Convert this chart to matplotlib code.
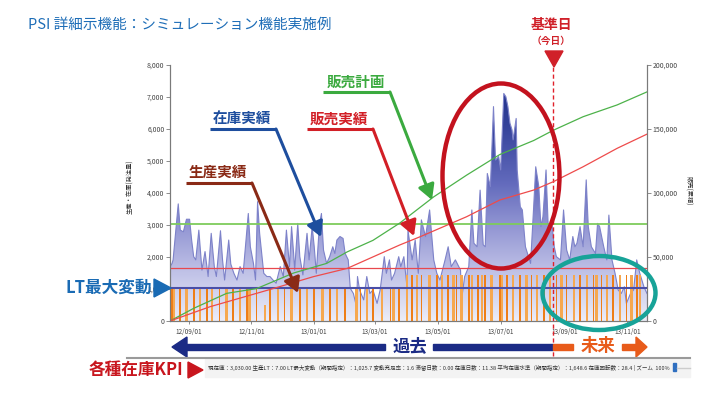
import datetime as dt
import numpy as np
import matplotlib
matplotlib.use("Agg")
import matplotlib.pyplot as plt
import matplotlib.dates as mdates
from matplotlib.colors import LinearSegmentedColormap
from matplotlib.patches import Ellipse, Polygon, Rectangle
from matplotlib.ticker import FuncFormatter

plt.rcParams['font.family'] = ['Noto Sans CJK JP', 'DejaVu Sans']

# axis runs from 2012-08-14, day offsets below are counted from there
START = dt.date(2012, 8, 14)
END_DAY = 463
BASE_DAY = 372  # 基準日 (今日)

# 在庫実績 (left axis)
inv_days = [0, 2, 3, 8, 10, 13, 16, 19, 21, 23, 25, 28, 31, 34, 37, 40, 43, 45, 49, 51,
            53, 57, 59, 62, 65, 68, 71, 76, 78, 81, 83, 85, 87, 91, 94, 97, 100, 103, 107, 110,
            113, 116, 118, 120, 121, 124, 126, 129, 133, 135, 138, 140, 142, 145, 147, 149, 152, 155, 158, 160,
            162, 165, 168, 170, 173, 175, 178, 181, 182, 184, 188, 191, 194, 197, 201, 204, 208, 210, 213, 215,
            218, 222, 224, 227, 230, 231, 235, 238, 241, 244, 248, 252, 256, 259, 262, 267, 270, 273, 277, 282,
            283, 286, 290, 293, 295, 298, 301, 304, 306, 308, 311, 314, 316, 319, 321, 324, 326, 328, 330, 332,
            333, 336, 337, 340, 342, 345, 348, 350, 353, 355, 358, 360, 362, 365, 367, 371, 373, 375, 379, 382,
            385, 388, 391, 393, 395, 398, 401, 404, 406, 409, 413, 415, 417, 421, 424, 426, 429, 432, 435, 438,
            441, 443, 447, 450, 453, 456, 460, 463]
inv_vals = [1700, 1800, 1910, 3660, 2840, 2790, 3180, 3180, 2530, 2010, 1910, 2840, 1590, 2170, 1390, 2740, 1700, 1390, 2820, 1910,
            1280, 2530, 1780, 1490, 1280, 1700, 1490, 3360, 2320, 1800, 1280, 3730, 2740, 1490, 1390, 1390, 1280, 1180, 1700, 1390,
            2840, 1700, 2950, 2110, 1590, 3050, 2010, 1440, 2740, 1910, 2950, 2320, 1490, 3000, 3360, 2220, 1800, 2010, 2320, 2110,
            2530, 2640, 2580, 2110, 1910, 1020, 860, 450, 1390, 970, 660, 1390, 860, 970, 550, 970, 2010, 1490, 1910, 1280,
            1490, 2010, 1700, 2010, 1070, 2840, 1910, 2530, 1490, 3160, 2640, 3470, 1910, 1490, 1280, 1910, 2320, 1700, 1910, 1590,
            660, 1390, 1700, 3470, 2430, 2320, 4090, 2380, 2320, 4610, 4200, 6700, 5030, 5140, 4720, 7110, 7010, 6700, 6180, 5970,
            5660, 6330, 4720, 3570, 3470, 2320, 2010, 1800, 3570, 4820, 4200, 2950, 3260, 4720, 3050, 2950, 2320, 2010, 1910, 3470,
            2220, 1910, 2640, 2320, 2430, 2950, 2320, 4410, 2950, 2320, 2110, 3050, 2950, 2320, 1910, 3310, 1910, 1490, 970, 860,
            1070, 550, 860, 970, 1910, 1490, 1070, 860]

# 生産実績 (left axis)
prod_days = [2, 4, 10, 16, 23, 29, 36, 41, 48, 55, 61, 68, 75, 77, 84, 92, 97, 105, 111, 118,
             126, 133, 140, 148, 155, 162, 170, 181, 185, 191, 197, 206, 214, 217, 222,
             230, 235, 240, 244, 252, 259, 264, 270, 275, 278, 283, 290, 293, 299, 303,
             306, 312, 320, 322, 327, 333, 340, 346, 351, 356, 363, 369, 375, 380, 385,
             392, 398, 405, 411, 414, 419, 424, 430, 437, 443, 448, 453, 456]
prod_vals = [1050] * 15 + [500] + [1050] * 19 + [1450] * 43

# 販売計画 / 販売実績 cumulative (right axis)
plan_days = [0, 23, 55, 84, 120, 152, 172, 197, 223, 256, 288, 320, 353, 372, 401, 434, 463]
plan_vals = [0, 9900, 21600, 25300, 37500, 45000, 54000, 63000, 76500, 97000, 114000, 130000,
             141000, 149000, 159600, 168800, 179000]
sales_days = [0, 39, 100, 139, 172, 223, 243, 288, 320, 353, 372, 401, 434, 463]
sales_vals = [0, 11200, 25300, 34600, 41100, 59400, 65900, 81500, 94500, 102300, 108800,
              120500, 134900, 146000]

stock_now = 3030.0
lt_max = 1025.7
avg_stock = 1648.6

left_ticks = [0, 1000, 2000, 3000, 4000, 5000, 6000, 7000, 8000]
right_ticks = [0, 50000, 100000, 150000, 200000]

kpi_text = ("現在庫：3,030.00 生産LT：7.00 LT最大変動（期間指定）：1,025.7 変動充足率：1.6 "
            "滞留日数：0.00 在庫日数：11.38 平均在庫水準（期間指定）：1,648.6 在庫回転数：28.4 | ズーム  100%")


def to_dates(days):
    return [START + dt.timedelta(days=d) for d in days]


fig = plt.figure(figsize=(7.2, 3.97), dpi=100)
ax = fig.add_axes([170 / 720, 76 / 397, 477 / 720, 256 / 397])
ax2 = ax.twinx()

d_inv = to_dates(inv_days)
poly = ax.fill_between(d_inv, inv_vals, 0, facecolor='none', edgecolor='none')
cmap = LinearSegmentedColormap.from_list('inv', [(0, '#ECEDF8'), (0.2, '#C2C4E8'), (0.4, '#9598D4'),
                                                 (0.6, '#626ABC'), (0.85, '#34429A'), (1.0, '#22338C')])
x0 = mdates.date2num(START)
x1 = mdates.date2num(START + dt.timedelta(days=END_DAY))
grad = np.linspace(0, 1, 256).reshape(-1, 1)
im = ax.imshow(grad, extent=[x0, x1, 0, 7200], origin='lower', aspect='auto', cmap=cmap, zorder=1)
im.set_clip_path(poly.get_paths()[0], ax.transData)
ax.plot(d_inv, inv_vals, color='#7D82C9', lw=0.8, zorder=2)

bar_cols = ['#F6A850' if i % 2 else '#EE7E18' for i in range(len(prod_days))]
bar_w = [2.4 if i % 2 else 1.6 for i in range(len(prod_days))]
ax.bar(to_dates(prod_days), prod_vals, width=bar_w, color=bar_cols, zorder=3)

ax.axhline(stock_now, color='#7ECB5C', lw=1.3, zorder=4)
ax.axhline(avg_stock, color='#E8484E', lw=0.9, zorder=4)
ax.axhline(lt_max, color='#4A4FA8', lw=1.5, zorder=4)

base = START + dt.timedelta(days=BASE_DAY)
ax.axvline(base, ymin=-0.137, ymax=1.0, clip_on=False, color='#E0202A', lw=1.0,
           ls=(0, (3, 2)), zorder=6)

ax.set_xlim(START, START + dt.timedelta(days=END_DAY))
ax.set_ylim(0, 8000)
ax.set_yticks(left_ticks)
ax.yaxis.set_major_formatter(FuncFormatter(lambda v, p: f"{int(v):,}"))
ax.xaxis.set_major_locator(mdates.MonthLocator(bymonth=[1, 3, 5, 7, 9, 11]))
ax.xaxis.set_major_formatter(mdates.DateFormatter('%y/%m/%d'))

ax2.plot(to_dates(plan_days), plan_vals, color='#4DB24A', lw=0.9)
ax2.plot(to_dates(sales_days), sales_vals, color='#EE4B4B', lw=0.9)
ax2.set_ylim(0, 200000)
ax2.set_yticks(right_ticks)
ax2.yaxis.set_major_formatter(FuncFormatter(lambda v, p: f"{int(v):,}"))

for a in (ax, ax2):
    a.spines['top'].set_visible(False)
    for s in ('left', 'right', 'bottom'):
        a.spines[s].set_color('#7A7A7A')
        a.spines[s].set_linewidth(0.8)
    a.tick_params(labelsize=5, labelcolor='#444444', color='#7A7A7A', length=3, width=0.6, pad=1)
ax.tick_params(axis='x', labelsize=4.6, length=2, pad=3)

# overlay in figure pixels for the callouts
ov = fig.add_axes([0, 0, 1, 1], zorder=10)
ov.set_xlim(0, 720)
ov.set_ylim(397, 0)
ov.axis('off')
ov.patch.set_alpha(0)

ov.text(28, 25, 'PSI 詳細示機能：シミュレーション機能実施例', fontsize=10.5, color='#1D6DB7',
        ha='left', va='center')
ov.text(130, 187, '生産・在庫(発注量)', rotation=90, fontsize=4.5, color='#333333', ha='center', va='center')
ov.text(688, 191, '販売(累積)', rotation=-90, fontsize=4.5, color='#333333', ha='center', va='center')

ov.text(551, 25, '基準日', fontsize=10, fontweight='bold', color='#D02029', ha='center', va='center')
ov.text(551, 41, '（今日）', fontsize=7, fontweight='bold', color='#D02029', ha='center', va='center')
ov.add_patch(Polygon([(545, 51), (563, 51), (554, 67)], closed=True, color='#D02029'))

ov.add_patch(Ellipse((501, 176), 117, 185, fill=False, ec='#C3121E', lw=3.2))
ov.add_patch(Ellipse((599, 293), 113, 74, fill=False, ec='#17A398', lw=3.2))

callouts = [
    ('在庫実績', '#1E4E9E', (242, 119), (210, 276, 129), (321, 237)),
    ('生産実績', '#8A2A16', (218, 172), (186, 252, 183), (298, 293)),
    ('販売実績', '#D21F26', (339, 119), (307, 373, 129), (414, 236)),
    ('販売計画', '#3BAA3F', (356, 82), (323, 390, 92), (432, 200)),
]
for label, col, tpos, (ux0, ux1, uy), tip in callouts:
    ov.text(tpos[0], tpos[1], label, fontsize=10.5, fontweight='bold', color=col, ha='center', va='center')
    ov.plot([ux0, ux1], [uy, uy], color=col, lw=2.2, solid_capstyle='butt')
    ov.annotate('', xy=tip, xytext=(ux1, uy),
                arrowprops=dict(arrowstyle='-|>,head_length=0.9,head_width=0.5', color=col, lw=2.2,
                                shrinkA=0, shrinkB=0, mutation_scale=10))

ov.text(152, 288, 'LT最大変動', fontsize=12, fontweight='bold', color='#1A6BB4', ha='right', va='center')
ov.add_patch(Polygon([(154, 279), (154, 297), (171, 288)], closed=True, color='#1A6BB4'))

# past / future band
navy = '#1B2B85'
orange = '#E85B1A'
ov.add_patch(Polygon([(172, 347), (187, 337), (187, 357)], closed=True, color=navy))
ov.add_patch(Rectangle((186, 343.5), 199, 6, color=navy))
ov.add_patch(Rectangle((433, 343.5), 120, 6, color=navy))
ov.text(410, 346, '過去', fontsize=12.5, fontweight='bold', color=navy, ha='center', va='center')
ov.add_patch(Rectangle((553, 343.5), 20, 6, color=orange))
ov.text(598, 346, '未来', fontsize=12.5, fontweight='bold', color=orange, ha='center', va='center')
ov.add_patch(Rectangle((622, 343.5), 15, 6, color=orange))
ov.add_patch(Polygon([(636, 337), (636, 357), (647, 347)], closed=True, color=orange))

# KPI strip
ov.plot([127, 690], [357.5, 357.5], color='#9A9A9A', lw=1.5)
ov.add_patch(Rectangle((205, 359), 485, 18, color='#F3F3F3'))
ov.text(183, 370, '各種在庫KPI', fontsize=12, fontweight='bold', color='#C8161E', ha='right', va='center')
ov.add_patch(Polygon([(188, 362), (188, 378), (203, 370)], closed=True, color='#C8161E'))
ov.text(208, 368, kpi_text, fontsize=4.0, color='#333333', ha='left', va='center')
ov.add_patch(Rectangle((673, 363), 3, 8, color='#2F6FC0'))
ov.plot([677, 690], [368, 368], color='#CCCCCC', lw=1)

fig.savefig('out.png', dpi=100)
